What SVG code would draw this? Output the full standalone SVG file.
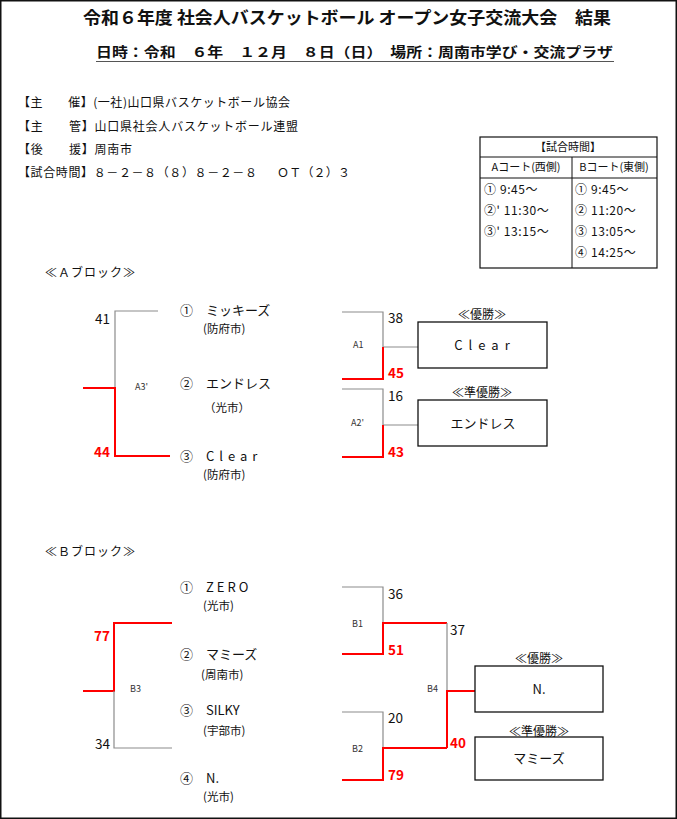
<svg xmlns="http://www.w3.org/2000/svg" width="677" height="819" viewBox="0 0 677 819">
<style>
text{font-family:"Noto Sans CJK JP","Noto Sans CJK SC",sans-serif;fill:#111}
.title{font-size:17px;font-weight:bold}
.sub{font-size:13.5px;font-weight:bold}
.info{font-size:12px}
.tb{font-size:11px}
.tr{font-size:12px;letter-spacing:0.6px}
.team{font-size:13px}
.city{font-size:11.5px}
.sc{font-size:13.5px}
.scr{font-size:13.5px;font-weight:bold;fill:#ff0000}
.ml{font-size:9px;fill:#333}
.hd{font-size:12px}
.box{fill:#fff;stroke:#111;stroke-width:1.3}
.g{fill:none;stroke:#8c8c8c;stroke-width:1.2}
.r{fill:none;stroke:#ff0000;stroke-width:2}
.tl{stroke:#111;stroke-width:1}
</style>
<rect x="0.75" y="0.75" width="675.5" height="817.5" fill="#fff" stroke="#111" stroke-width="1.5"/>
<g id="header">
<text class="title" x="83" y="24" textLength="528" lengthAdjust="spacingAndGlyphs">令和６年度 社会人バスケットボール オープン女子交流大会　結果</text>
<text class="sub" x="96" y="57" textLength="517" lengthAdjust="spacingAndGlyphs">日時：令和　６年　１２月　８日（日）　場所：周南市学び・交流プラザ</text>
<line x1="96" y1="61.5" x2="614" y2="61.5" stroke="#555" stroke-width="1"/>
</g>
<g id="info">
<text class="info" x="18" y="107" textLength="272" lengthAdjust="spacing">【主　　催】(一社)山口県バスケットボール協会</text>
<text class="info" x="18" y="131" textLength="280" lengthAdjust="spacing">【主　　管】山口県社会人バスケットボール連盟</text>
<text class="info" x="18" y="154" textLength="114" lengthAdjust="spacing">【後　　援】周南市</text>
<text class="info" x="18" y="177" textLength="239" lengthAdjust="spacing">【試合時間】８－２－８（８）８－２－８</text>
<text class="info" x="277" y="177" textLength="73" lengthAdjust="spacing">ＯＴ（２）３</text>
</g>
<g id="schedule">
<rect x="480" y="137" width="177" height="131" fill="none" stroke="#111" stroke-width="1.2"/>
<line class="tl" x1="480" y1="157" x2="657" y2="157"/>
<line class="tl" x1="480" y1="178" x2="657" y2="178"/>
<line class="tl" x1="572" y1="157" x2="572" y2="268"/>
<text class="tb" x="568" y="151" text-anchor="middle">【試合時間】</text>
<text class="tb" x="526" y="171" text-anchor="middle">Aコート(西側)</text>
<text class="tb" x="614" y="171" text-anchor="middle">Bコート(東側)</text>
<text class="tr" x="484" y="194">① 9:45～</text>
<text class="tr" x="484" y="215">②' 11:30～</text>
<text class="tr" x="484" y="236">③' 13:15～</text>
<text class="tr" x="575" y="194">① 9:45～</text>
<text class="tr" x="575" y="215">② 11:20～</text>
<text class="tr" x="575" y="236">③ 13:05～</text>
<text class="tr" x="575" y="257">④ 14:25～</text>
</g>
<g id="connectors">
<path class="g" d="M158 311H115V388"/>
<path class="r" d="M83 388H115V456H170"/>
<path class="g" d="M342 312H383V347H418"/>
<path class="r" d="M342 379H383V347"/>
<path class="g" d="M342 389H383V425H418"/>
<path class="r" d="M342 457H383V425"/>
<path class="r" d="M172 623H114V691H83"/>
<path class="g" d="M114 691V748H172"/>
<path class="g" d="M342 587H383V623"/>
<path class="r" d="M342 654H383V623H447"/>
<path class="g" d="M342 712H383V748"/>
<path class="r" d="M342 780H383V748H447"/>
<path class="g" d="M447 623V691"/>
<path class="r" d="M447 748V691H475"/>
</g>
<g id="blockA">
<text class="hd" x="45" y="277" letter-spacing="1">≪Ａブロック≫</text>
<text class="sc" x="110" y="324" text-anchor="end">41</text>
<text class="scr" x="110" y="457" text-anchor="end">44</text>
<text class="ml" x="135" y="390">A3'</text>
<text class="sc" x="388" y="323">38</text>
<text class="scr" x="388" y="378">45</text>
<text class="ml" x="353" y="348">A1</text>
<text class="sc" x="388" y="401">16</text>
<text class="scr" x="388" y="457">43</text>
<text class="ml" x="351" y="426">A2'</text>
</g>
<g id="teamA1"><text class="team" x="180" y="315">①　ミッキーズ</text><text class="city" x="203" y="333">(防府市)</text></g>
<g id="teamA2"><text class="team" x="180" y="388">②　エンドレス</text><text class="city" x="204" y="412">（光市）</text></g>
<g id="teamA3"><text class="team" x="180" y="461">③　<tspan letter-spacing="5">Clear</tspan></text><text class="city" x="203" y="479">(防府市)</text></g>
<g id="winA">
<text class="hd" x="482" y="319" text-anchor="middle">≪優勝≫</text>
<rect class="box" x="418" y="322" width="129" height="46"/>
<text class="team" x="485" y="350" text-anchor="middle" letter-spacing="6">Clear</text>
</g>
<g id="runnerA">
<text class="hd" x="482" y="397" text-anchor="middle">≪準優勝≫</text>
<rect class="box" x="418" y="400" width="129" height="46"/>
<text class="team" x="483" y="428" text-anchor="middle">エンドレス</text>
</g>
<g id="blockB">
<text class="hd" x="45" y="556" letter-spacing="1">≪Ｂブロック≫</text>
<text class="scr" x="110" y="641" text-anchor="end">77</text>
<text class="sc" x="110" y="749" text-anchor="end">34</text>
<text class="ml" x="130" y="692">B3</text>
<text class="sc" x="388" y="599">36</text>
<text class="scr" x="388" y="655">51</text>
<text class="ml" x="352" y="627">B1</text>
<text class="sc" x="388" y="723">20</text>
<text class="scr" x="388" y="780">79</text>
<text class="ml" x="352" y="752">B2</text>
<text class="sc" x="450" y="635">37</text>
<text class="scr" x="450" y="748">40</text>
<text class="ml" x="427" y="692">B4</text>
</g>
<g id="teamB1"><text class="team" x="180" y="592">①　<tspan letter-spacing="3">ZERO</tspan></text><text class="city" x="203" y="610">(光市)</text></g>
<g id="teamB2"><text class="team" x="180" y="659">②　マミーズ</text><text class="city" x="201" y="679">(周南市)</text></g>
<g id="teamB3"><text class="team" x="180" y="715">③　SILKY</text><text class="city" x="203" y="735">(宇部市)</text></g>
<g id="teamB4"><text class="team" x="180" y="783">④　N.</text><text class="city" x="203" y="801">(光市)</text></g>
<g id="winB">
<text class="hd" x="539" y="663" text-anchor="middle">≪優勝≫</text>
<rect class="box" x="475" y="666" width="128" height="46"/>
<text class="team" x="539" y="694" text-anchor="middle">N.</text>
</g>
<g id="runnerB">
<text class="hd" x="539" y="736" text-anchor="middle">≪準優勝≫</text>
<rect class="box" x="475" y="737" width="128" height="43"/>
<text class="team" x="539" y="763" text-anchor="middle">マミーズ</text>
</g>
</svg>
